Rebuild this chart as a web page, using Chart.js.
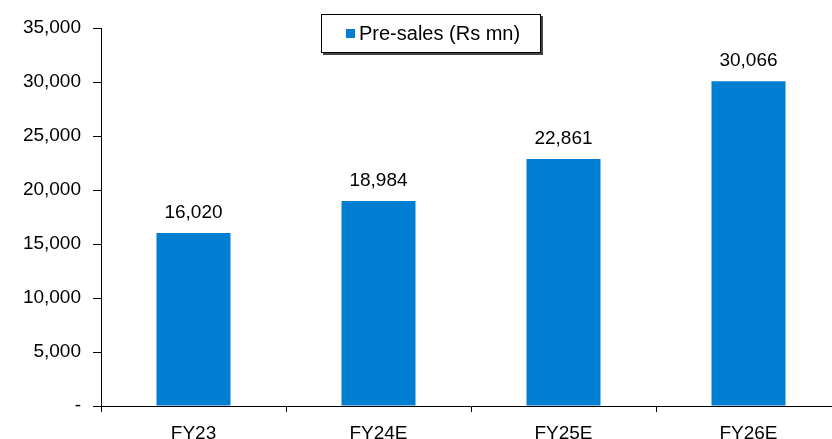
<!DOCTYPE html>
<html>
<head>
<meta charset="utf-8">
<script src="https://cdn.jsdelivr.net/npm/chart.js@4/dist/chart.umd.min.js"></script>
<style>
  html, body { margin: 0; padding: 0; overflow: hidden; background: #fff; }
  #wrap { position: absolute; left: 0; top: 0; width: 841px; height: 439px; }
</style>
</head>
<body>
<div id="wrap"><canvas id="c" width="841" height="439"></canvas></div>
<script>
const categories = ['FY23', 'FY24E', 'FY25E', 'FY26E'];
const preSales = [16020, 18984, 22861, 30066];
const seriesLabel = 'Pre-sales (Rs mn)';
const yTicks = [0, 5000, 10000, 15000, 20000, 25000, 30000, 35000];

const BLUE = '#007ED2';
const FONT = '"Liberation Sans", Arial, sans-serif';
const fmt = v => v === 0 ? '-' : v.toLocaleString('en-US');

const dataLabels = {
  id: 'dataLabels',
  afterDatasetsDraw(chart) {
    const ctx = chart.ctx;
    const meta = chart.getDatasetMeta(0);
    ctx.save();
    ctx.font = '19px ' + FONT;
    ctx.fillStyle = '#000';
    ctx.textAlign = 'center';
    ctx.textBaseline = 'alphabetic';
    meta.data.forEach((bar, i) => {
      ctx.fillText(fmt(chart.data.datasets[0].data[i]), bar.x, bar.y - 15);
    });
    ctx.restore();
  }
};

const boxLegend = {
  id: 'boxLegend',
  afterDraw(chart) {
    const ctx = chart.ctx;
    const x = 321, y = 14, w = 220, h = 39;
    ctx.save();
    ctx.fillStyle = '#444';
    ctx.fillRect(x + 2, y + 2, w, h);
    ctx.fillStyle = '#fff';
    ctx.fillRect(x, y, w, h);
    ctx.strokeStyle = '#000';
    ctx.lineWidth = 1;
    ctx.strokeRect(x + 0.5, y + 0.5, w - 1, h - 1);
    ctx.fillStyle = chart.data.datasets[0].backgroundColor;
    ctx.fillRect(346, 29, 9, 9);
    ctx.fillStyle = '#000';
    ctx.font = '20px ' + FONT;
    ctx.textAlign = 'left';
    ctx.textBaseline = 'middle';
    ctx.fillText(chart.data.datasets[0].label, 359, 34);
    ctx.restore();
  }
};

new Chart(document.getElementById('c'), {
  type: 'bar',
  data: {
    labels: categories,
    datasets: [{
      label: seriesLabel,
      data: preSales,
      backgroundColor: BLUE,
      borderWidth: 0,
      categoryPercentage: 1,
      barPercentage: 0.4
    }]
  },
  options: {
    responsive: false,
    animation: false,
    layout: { padding: { top: 28, left: 0, right: 0, bottom: 0 } },
    plugins: { legend: { display: false }, tooltip: { enabled: false } },
    scales: {
      x: {
        offset: true,
        grid: { offset: true, drawOnChartArea: false, drawTicks: true, tickLength: 6, color: '#000', lineWidth: 1 },
        border: { display: true, color: '#000', width: 1 },
        ticks: { color: '#000', font: { family: FONT, size: 19 }, padding: 10, maxRotation: 0 },
        afterFit(s) { s.height = 33; }
      },
      y: {
        min: 0,
        max: 35000,
        afterBuildTicks(s) { s.ticks = yTicks.map(v => ({ value: v })); },
        grid: { drawOnChartArea: false, drawTicks: true, tickLength: 8, color: '#000', lineWidth: 1 },
        border: { display: true, color: '#000', width: 1 },
        ticks: { color: '#000', font: { family: FONT, size: 19 }, padding: 12, callback: v => fmt(v) },
        afterFit(s) { s.width = 101; }
      }
    }
  },
  plugins: [dataLabels, boxLegend]
});
</script>
</body>
</html>
